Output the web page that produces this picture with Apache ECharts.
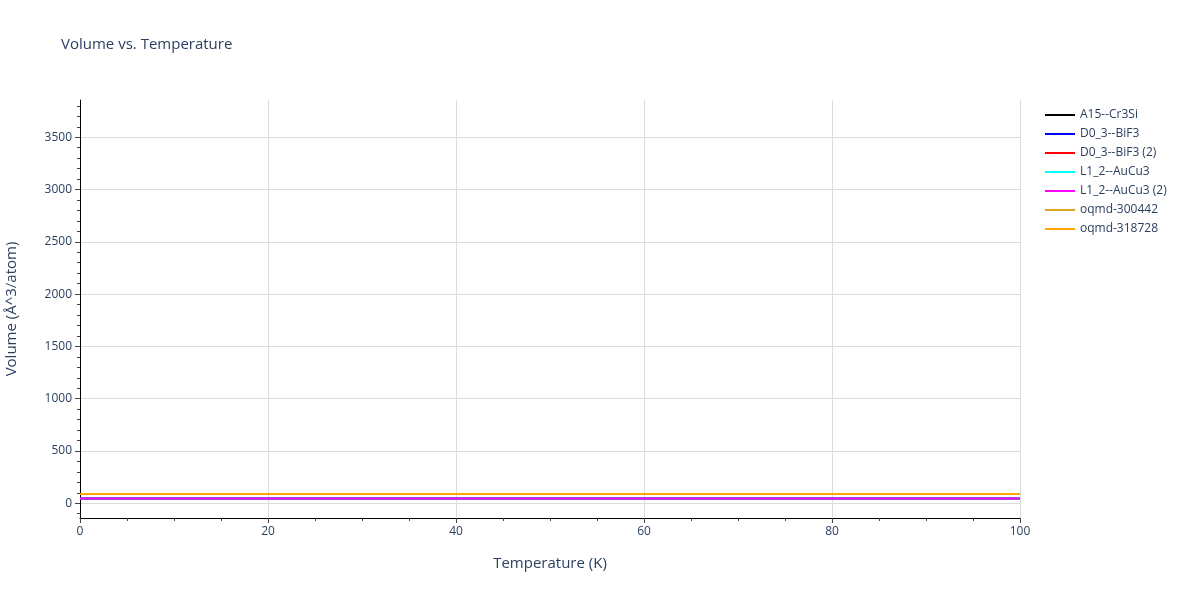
<!DOCTYPE html>
<html>
<head>
<meta charset="utf-8">
<script src="https://cdn.jsdelivr.net/npm/echarts@6/dist/echarts.min.js"></script>
<style>
    html, body { margin: 0; padding: 0; background: #fff; }
    #chart { width: 1200px; height: 600px; }
</style>
</head>
<body>
<div id="chart"></div>
<script>
'use strict';

// temperatures (K) where the volumes are sampled
var temperatures = [0, 20, 40, 60, 80, 100];

// volume per atom (Å^3/atom), flat over this range
var seriesNames = ['A15--Cr3Si', 'D0_3--BiF3', 'D0_3--BiF3 (2)', 'L1_2--AuCu3', 'L1_2--AuCu3 (2)', 'oqmd-300442', 'oqmd-318728'];
var cr3si = [46, 46, 46, 46, 46, 46];
var bif3 = [46, 46, 46, 46, 46, 46];
var bif3b = [46, 46, 46, 46, 46, 46];
var aucu3 = [46, 46, 46, 46, 46, 46];
var aucu3b = [46, 46, 46, 46, 46, 46];
var oqmd300442 = [89, 89, 89, 89, 89, 89];
var oqmd318728 = [89, 89, 89, 89, 89, 89];

// axis ticks
var yMajorTicks = [0, 500, 1000, 1500, 2000, 2500, 3000, 3500];
var yMinorTicks = [-100, 100, 200, 300, 400, 600, 700, 800, 900, 1100, 1200, 1300, 1400,
    1600, 1700, 1800, 1900, 2100, 2200, 2300, 2400, 2600, 2700, 2800, 2900,
    3100, 3200, 3300, 3400, 3600, 3700, 3800];
var yRange = [-141, 3856];
var xRange = [0, 100];

var colors = ['#000000', '#0000ff', '#ff0000', '#00ffff', '#ff00ff', '#daa520', '#ffa500'];
var values = [cr3si, bif3, bif3b, aucu3, aucu3b, oqmd300442, oqmd318728];

var font = '"Open Sans", verdana, arial, sans-serif';
var textColor = '#2a3f5f';

function makeSeries(name, data, color) {
    return {
        name: name,
        type: 'line',
        symbol: 'none',
        data: temperatures.map(function (t, i) { return [t, data[i]]; }),
        lineStyle: { color: color, width: 2 },
        itemStyle: { color: color },
        emphasis: { disabled: true }
    };
}

var chart = echarts.init(document.getElementById('chart'));

chart.setOption({
    animation: false,
    textStyle: { fontFamily: font },
    title: {
        text: 'Volume vs. Temperature',
        left: 61,
        top: 37,
        padding: 0,
        textStyle: { fontFamily: font, fontSize: 15, fontWeight: 'normal', color: textColor }
    },
    legend: {
        orient: 'vertical',
        left: 1040,
        top: 103,
        icon: 'rect',
        itemWidth: 30,
        itemHeight: 2,
        itemGap: 5,
        textStyle: { fontFamily: font, fontSize: 12, color: textColor, lineHeight: 14 },
        data: seriesNames
    },
    grid: { left: 80, right: 180, top: 100, bottom: 82, outerBoundsMode: 'none', containLabel: false },
    xAxis: {
        type: 'value',
        min: xRange[0],
        max: xRange[1],
        interval: 20,
        name: 'Temperature (K)',
        nameLocation: 'middle',
        nameGap: 38,
        nameTextStyle: { fontFamily: font, fontSize: 15, color: textColor },
        axisLine: { show: true, onZero: false, lineStyle: { color: '#000', width: 1 } },
        axisTick: { show: true, length: 5, lineStyle: { color: '#444' } },
        minorTick: { show: true, splitNumber: 4, length: 3, lineStyle: { color: '#444' } },
        axisLabel: { fontFamily: font, fontSize: 12, color: textColor, margin: 8 },
        splitLine: { show: true, lineStyle: { color: '#dcdcdc', width: 1 } }
    },
    yAxis: [{
        type: 'value',
        min: yRange[0],
        max: yRange[1],
        name: 'Volume (Å^3/atom)',
        nameLocation: 'middle',
        nameGap: 61,
        nameTextStyle: { fontFamily: font, fontSize: 15, color: textColor },
        axisLine: { show: true, onZero: false, lineStyle: { color: '#000', width: 1 } },
        axisTick: { show: true, length: 5, customValues: yMajorTicks, lineStyle: { color: '#444' } },
        axisLabel: {
            fontFamily: font, fontSize: 12, color: textColor, margin: 8, customValues: yMajorTicks,
            formatter: function (v) { return String(v); }
        },
        splitLine: { show: true, lineStyle: { color: '#dcdcdc', width: 1 } }
    }, {
        type: 'value',
        min: yRange[0],
        max: yRange[1],
        position: 'left',
        axisLine: { show: false },
        axisTick: { show: true, length: 3, customValues: yMinorTicks, lineStyle: { color: '#444' } },
        axisLabel: { show: false },
        splitLine: { show: false }
    }],
    series: seriesNames.map(function (name, i) {
        return makeSeries(name, values[i], colors[i]);
    })
});
</script>
</body>
</html>
